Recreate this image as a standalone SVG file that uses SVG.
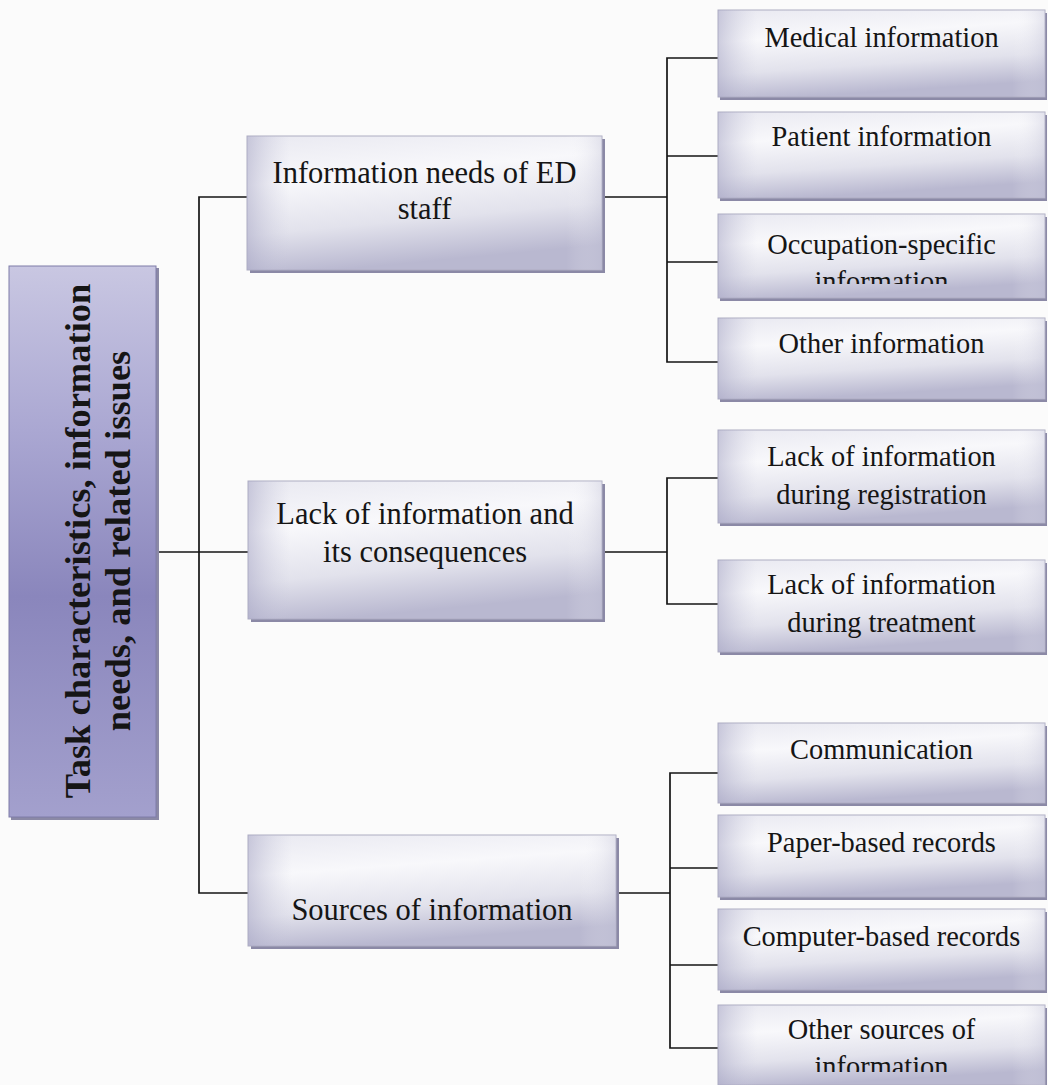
<svg xmlns="http://www.w3.org/2000/svg" width="1048" height="1085" viewBox="0 0 1048 1085">
  <defs>
    <!-- soft lavender shading used by the white boxes -->
    <linearGradient id="gBox" x1="0" y1="0" x2="0.25" y2="1">
      <stop offset="0" stop-color="#e9e9f1"/>
      <stop offset="0.35" stop-color="#f8f8fb"/>
      <stop offset="0.7" stop-color="#e2e2ec"/>
      <stop offset="1" stop-color="#b9b8d0"/>
    </linearGradient>
    <linearGradient id="gEdge" x1="0" y1="0" x2="1" y2="0">
      <stop offset="0" stop-color="#a9a8c6" stop-opacity="0.55"/>
      <stop offset="0.12" stop-color="#c8c8dc" stop-opacity="0"/>
      <stop offset="0.9" stop-color="#ffffff" stop-opacity="0"/>
      <stop offset="1" stop-color="#c4c4d8" stop-opacity="0.4"/>
    </linearGradient>
    <!-- purple fill of the root box -->
    <linearGradient id="gRoot" x1="0" y1="0" x2="0" y2="1">
      <stop offset="0" stop-color="#c9c7e2"/>
      <stop offset="0.3" stop-color="#aaa7d2"/>
      <stop offset="0.6" stop-color="#8a86bc"/>
      <stop offset="1" stop-color="#a3a0cd"/>
    </linearGradient>
    <clipPath id="clipOcc"><rect x="718" y="214" width="327" height="70"/></clipPath>
    <clipPath id="clipSrc"><rect x="718" y="1005" width="327" height="67"/></clipPath>
  </defs>
  <style>
    .shadow { fill: #8b89a6; }
    .box { fill: url(#gBox); stroke: #aeadc2; stroke-width: 1; }
    .edge { fill: url(#gEdge); }
    .root { fill: url(#gRoot); stroke: #7e7ca8; stroke-width: 1; }
    text { font-family: "Liberation Serif", "Times New Roman", serif; fill: #151515; text-anchor: middle; }
    .m { font-size: 30.5px; }
    .r { font-size: 28.4px; }
    .b { font-size: 36.5px; font-weight: bold; }
    #connectors path { fill: none; stroke: #141414; stroke-width: 1.7; }
  </style>

  <rect width="1048" height="1085" fill="#fbfbfb"/>

  <!-- connectors -->
  <g id="connectors">
    <path d="M156 552 H248"/>
    <path d="M248 197 H199 V893 H248"/>
    <path d="M602 197 H667 M718 58 H667 V362 H718 M667 156 H718 M667 262 H718"/>
    <path d="M602 552 H667 M718 478 H667 V604 H718"/>
    <path d="M616 893 H670 M718 773 H670 V1048 H718 M670 868 H718 M670 965 H718"/>
  </g>

  <!-- root -->
  <g id="root">
    <rect class="shadow" x="11" y="268" width="148" height="552"/>
    <rect class="root" x="9" y="266" width="147" height="551"/>
    <text class="b" transform="translate(90,541) rotate(-90)">Task characteristics, information</text>
    <text class="b" transform="translate(130,541) rotate(-90)">needs, and related issues</text>
  </g>

  <!-- second level -->
  <g id="needs">
    <rect class="shadow" x="250" y="139" width="355" height="134"/>
    <rect class="box" x="247" y="136" width="355" height="134"/>
    <rect class="edge" x="247" y="136" width="355" height="134"/>
    <text class="m" x="424.5" y="183">Information needs of ED</text>
    <text class="m" x="424.5" y="219">staff</text>
  </g>
  <g id="lack">
    <rect class="shadow" x="251" y="484" width="354" height="138"/>
    <rect class="box" x="248" y="481" width="354" height="138"/>
    <rect class="edge" x="248" y="481" width="354" height="138"/>
    <text class="m" x="425" y="524">Lack of information and</text>
    <text class="m" x="425" y="562">its consequences</text>
  </g>
  <g id="sources">
    <rect class="shadow" x="251" y="838" width="368" height="111"/>
    <rect class="box" x="248" y="835" width="368" height="111"/>
    <rect class="edge" x="248" y="835" width="368" height="111"/>
    <text class="m" x="432" y="920">Sources of information</text>
  </g>

  <!-- third level -->
  <g id="medical">
    <rect class="shadow" x="720" y="13" width="327" height="87"/>
    <rect class="box" x="718" y="10" width="327" height="87"/>
    <rect class="edge" x="718" y="10" width="327" height="87"/>
    <text class="r" x="881.5" y="47">Medical information</text>
  </g>
  <g id="patient">
    <rect class="shadow" x="720" y="115" width="327" height="86"/>
    <rect class="box" x="718" y="112" width="327" height="86"/>
    <rect class="edge" x="718" y="112" width="327" height="86"/>
    <text class="r" x="881.5" y="146">Patient information</text>
  </g>
  <g id="occupation">
    <rect class="shadow" x="720" y="217" width="327" height="84"/>
    <rect class="box" x="718" y="214" width="327" height="84"/>
    <rect class="edge" x="718" y="214" width="327" height="84"/>
    <text class="r" x="881.5" y="254">Occupation-specific</text>
    <text class="r" x="881.5" y="291" clip-path="url(#clipOcc)">information</text>
  </g>
  <g id="other">
    <rect class="shadow" x="720" y="321" width="327" height="81"/>
    <rect class="box" x="718" y="318" width="327" height="81"/>
    <rect class="edge" x="718" y="318" width="327" height="81"/>
    <text class="r" x="881.5" y="353">Other information</text>
  </g>
  <g id="registration">
    <rect class="shadow" x="720" y="433" width="327" height="93"/>
    <rect class="box" x="718" y="430" width="327" height="93"/>
    <rect class="edge" x="718" y="430" width="327" height="93"/>
    <text class="r" x="881.5" y="466">Lack of information</text>
    <text class="r" x="881.5" y="504">during registration</text>
  </g>
  <g id="treatment">
    <rect class="shadow" x="720" y="563" width="327" height="92"/>
    <rect class="box" x="718" y="560" width="327" height="92"/>
    <rect class="edge" x="718" y="560" width="327" height="92"/>
    <text class="r" x="881.5" y="594">Lack of information</text>
    <text class="r" x="881.5" y="632">during treatment</text>
  </g>
  <g id="communication">
    <rect class="shadow" x="720" y="726" width="327" height="80"/>
    <rect class="box" x="718" y="723" width="327" height="80"/>
    <rect class="edge" x="718" y="723" width="327" height="80"/>
    <text class="r" x="881.5" y="759">Communication</text>
  </g>
  <g id="paper">
    <rect class="shadow" x="720" y="818" width="327" height="82"/>
    <rect class="box" x="718" y="815" width="327" height="82"/>
    <rect class="edge" x="718" y="815" width="327" height="82"/>
    <text class="r" x="881.5" y="852">Paper-based records</text>
  </g>
  <g id="computer">
    <rect class="shadow" x="720" y="912" width="327" height="81"/>
    <rect class="box" x="718" y="909" width="327" height="81"/>
    <rect class="edge" x="718" y="909" width="327" height="81"/>
    <text class="r" x="881.5" y="946">Computer-based records</text>
  </g>
  <g id="othersources">
    <rect class="shadow" x="720" y="1008" width="327" height="80"/>
    <rect class="box" x="718" y="1005" width="327" height="80"/>
    <rect class="edge" x="718" y="1005" width="327" height="80"/>
    <text class="r" x="881.5" y="1039">Other sources of</text>
    <text class="r" x="881.5" y="1076" clip-path="url(#clipSrc)">information</text>
  </g>
</svg>
